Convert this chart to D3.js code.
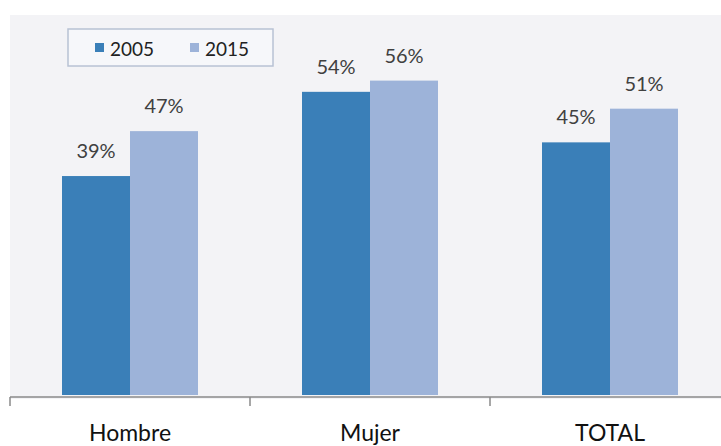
<!DOCTYPE html>
<html>
<head>
<meta charset="utf-8">
<script src="https://cdn.jsdelivr.net/npm/d3@7"></script>
<style>
  body { margin: 0; background: #fff; }
  svg { display: block; font-family: Lato, "Open Sans", sans-serif; }
</style>
</head>
<body>
<svg id="chart" width="721" height="446"></svg>
<script>
var categories = ["Hombre", "Mujer", "TOTAL"];
var years = ["2005", "2015"];
var values2005 = [39, 54, 45];
var values2015 = [47, 56, 51];

var colors = ["#3a7fb8", "#9db3d9"];

var svg = d3.select("#chart"),
    margin = {top: 15, right: 0, bottom: 49, left: 10},
    width = +svg.attr("width") - margin.left - margin.right,
    height = +svg.attr("height") - margin.top - margin.bottom;

var data = categories.map(function(c, i) {
    return {cat: c, vals: [values2005[i], values2015[i]]};
});

// plot area panel
svg.append("rect")
    .attr("x", margin.left)
    .attr("y", margin.top)
    .attr("width", width)
    .attr("height", height + 2)
    .attr("fill", "#f3f3f6");

var g = svg.append("g").attr("transform", "translate(" + margin.left + "," + margin.top + ")");

var x0 = d3.scaleBand()
    .domain(categories)
    .range([0, 720]);

var x1 = d3.scaleBand()
    .domain(years)
    .range([0, 136]);

var y = d3.scaleLinear()
    .domain([0, 70])
    .range([height - 2, -13]);

var groups = g.selectAll(".grp")
    .data(data)
    .enter().append("g")
    .attr("class", "grp")
    .attr("transform", function(d) { return "translate(" + (x0(d.cat) + x0.bandwidth() / 2 - 68) + ",0)"; });

groups.selectAll("rect")
    .data(function(d) { return d.vals.map(function(v, i) { return {year: years[i], v: v}; }); })
    .enter().append("rect")
    .attr("x", function(d) { return x1(d.year); })
    .attr("y", function(d) { return y(d.v); })
    .attr("width", x1.bandwidth())
    .attr("height", function(d) { return y(0) - y(d.v); })
    .attr("fill", function(d, i) { return colors[i]; });

groups.selectAll("text")
    .data(function(d) { return d.vals.map(function(v, i) { return {year: years[i], v: v}; }); })
    .enter().append("text")
    .attr("x", function(d) { return x1(d.year) + x1.bandwidth() / 2; })
    .attr("y", function(d) { return y(d.v) - 18; })
    .attr("text-anchor", "middle")
    .attr("font-size", 20)
    .attr("fill", "#404040")
    .text(function(d) { return d.v + "%"; });

// category axis
var axis = g.append("g")
    .attr("transform", "translate(0," + height + ")");
axis.append("line")
    .attr("x1", 0).attr("x2", width)
    .attr("stroke", "#8a8a8a").attr("stroke-width", 1.5);
axis.selectAll(".tick")
    .data(categories)
    .enter().append("line")
    .attr("x1", function(d) { return x0(d); })
    .attr("x2", function(d) { return x0(d); })
    .attr("y1", 0).attr("y2", 9)
    .attr("stroke", "#8a8a8a").attr("stroke-width", 1.5);
axis.selectAll(".lbl")
    .data(categories)
    .enter().append("text")
    .attr("x", function(d) { return x0(d) + x0.bandwidth() / 2; })
    .attr("y", 44)
    .attr("text-anchor", "middle")
    .attr("font-size", 23)
    .attr("fill", "#111")
    .text(function(d) { return d; });

// legend
var legend = svg.append("g").attr("transform", "translate(68,29)");
legend.append("rect")
    .attr("width", 205).attr("height", 37)
    .attr("fill", "#f6f7fa")
    .attr("stroke", "#b8c2d4").attr("stroke-width", 1.5);
var item = legend.selectAll(".item")
    .data(years)
    .enter().append("g")
    .attr("transform", function(d, i) { return "translate(" + (27 + i * 95) + ",0)"; });
item.append("rect")
    .attr("y", 14).attr("width", 9).attr("height", 9)
    .attr("fill", function(d, i) { return colors[i]; });
item.append("text")
    .attr("x", 15).attr("y", 27)
    .attr("font-size", 19)
    .attr("fill", "#222")
    .text(function(d) { return d; });
</script>
</body>
</html>
